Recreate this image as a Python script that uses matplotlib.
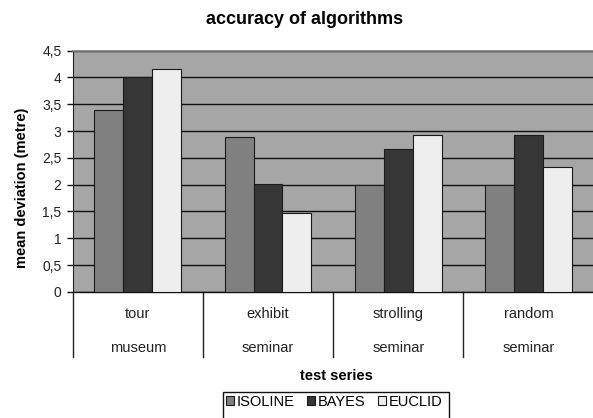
import matplotlib
matplotlib.use("Agg")
import matplotlib.pyplot as plt
import numpy as np
from matplotlib.patches import Rectangle
from matplotlib.transforms import blended_transform_factory

plt.rcParams['font.family'] = ['Liberation Sans', 'DejaVu Sans']

# ---- data ----
row1_labels = ["tour", "exhibit", "strolling", "random"]
row2_labels = ["museum", "seminar", "seminar", "seminar"]
series_names = ["ISOLINE", "BAYES", "EUCLID"]
isoline = [3.40, 2.89, 2.00, 2.00]
bayes = [4.00, 2.02, 2.67, 2.92]
euclid = [4.16, 1.47, 2.92, 2.33]
y_ticks = [0, 0.5, 1, 1.5, 2, 2.5, 3, 3.5, 4, 4.5]
y_tick_labels = ["0", "0,5", "1", "1,5", "2", "2,5", "3", "3,5", "4", "4,5"]
title = "accuracy of algorithms"
x_title = "test series"
y_title = "mean deviation (metre)"

colors = ["#808080", "#363636", "#EEEEEE"]

W, H = 593, 418
fig = plt.figure(figsize=(W / 100, H / 100), dpi=100)

def fx(px):
    return px / W

def fy(py):
    return 1 - py / H

left, right, top, bottom = 72.7, 593.5, 50.7, 291.8
ax = fig.add_axes([fx(left), fy(bottom), fx(right) - fx(left), fy(top) - fy(bottom)])
ax.set_facecolor("#A6A6A6")

n = len(row1_labels)
bw = 1 / 4.5
centers = np.arange(n) + 0.5
for i, (vals, c, name) in enumerate(zip([isoline, bayes, euclid], colors, series_names)):
    ax.bar(centers + (i - 1) * bw, vals, width=bw, color=c, edgecolor="#1a1a1a",
           linewidth=0.8, label=name, zorder=3)

ax.set_xlim(0, n)
ax.set_ylim(0, 4.5)
ax.set_yticks(y_ticks)
ax.set_yticklabels(y_tick_labels, fontsize=10, color="#222222")
ax.yaxis.grid(True, color="#111111", linewidth=1.0, zorder=1)
ax.set_axisbelow(True)
ax.tick_params(axis="y", length=4, width=1, pad=4, color="#111111")
ax.tick_params(axis="x", length=0, labelbottom=False)
for s in ["top", "right"]:
    ax.spines[s].set_color("#808080")
    ax.spines[s].set_linewidth(1.2)
ax.spines["left"].set_color("#222222")
ax.spines["bottom"].set_color("#111111")
ax.spines["bottom"].set_linewidth(1.0)

# multi-level category labels
trans = blended_transform_factory(ax.transData, ax.transAxes)
ah = bottom - top
def ay(py):
    return (bottom - py) / ah

for k in range(n + 1):
    ax.plot([k, k], [0, ay(357)], transform=trans, color="#222222", linewidth=1.0,
            clip_on=False)
for k in range(n):
    ax.text(centers[k], ay(314), row1_labels[k], transform=trans, ha="center", va="center",
            fontsize=10.5, color="#222222")
    ax.text(centers[k], ay(348), row2_labels[k], transform=trans, ha="center", va="center",
            fontsize=10.5, color="#222222")

fig.text(fx(304.5), fy(19.5), title, ha="center", va="center", fontsize=13,
         fontweight="bold")
fig.text(fx(336), fy(376), x_title, ha="center", va="center", fontsize=10.5,
         fontweight="bold")
fig.text(fx(22), fy(188), y_title, ha="center", va="center", fontsize=10.5,
         fontweight="bold", rotation=90)

# legend box
fig.patches.append(Rectangle((fx(222.7), fy(430)), fx(449) - fx(222.7), fy(391.7) - fy(430),
                             transform=fig.transFigure, fill=False, edgecolor="#111111",
                             linewidth=1.0))
handles, labels = ax.get_legend_handles_labels()
fig.legend(handles, labels, loc="center", bbox_to_anchor=(fx(334), fy(402)), ncol=3,
           frameon=False, fontsize=10.5, handlelength=0.55, handleheight=0.55,
           handletextpad=0.15, columnspacing=0.9, borderpad=0)

fig.savefig("out.png", dpi=100)
